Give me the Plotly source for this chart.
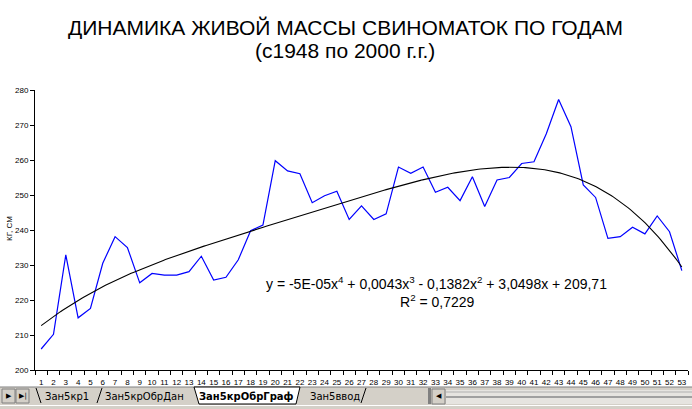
import numpy as np
import plotly.graph_objects as go

# ---------------- data ----------------
years_idx = list(range(1, 54))
mass = [206.0, 210.2, 232.9, 214.9, 217.6, 230.5, 238.1, 235.0, 224.9, 227.6,
        227.1, 227.1, 228.1, 232.5, 225.7, 226.5, 231.5, 239.8, 241.4, 259.8,
        256.9, 256.1, 247.8, 249.8, 251.1, 243.0, 246.9, 243.0, 244.6, 258.0,
        256.2, 258.0, 250.8, 252.2, 248.4, 255.2, 246.7, 254.3, 255.0, 259.0,
        259.5, 267.5, 277.3, 269.5, 252.9, 249.3, 237.6, 238.1, 240.8, 238.9,
        244.0, 239.5, 228.4]
y_ticks = [200, 210, 220, 230, 240, 250, 260, 270, 280]
title_line1 = "ДИНАМИКА ЖИВОЙ МАССЫ СВИНОМАТОК ПО ГОДАМ"
title_line2 = "(с1948 по 2000 г.г.)"
y_title = "КГ, СМ"
equation = "y = -5E-05x<sup>4</sup> + 0,0043x<sup>3</sup> - 0,1382x<sup>2</sup> + 3,0498x + 209,71"
r2_text = "R<sup>2</sup> = 0,7229"
sheet_tabs = ["Зан5кр1", "Зан5крОбрДан", "Зан5крОбрГраф", "Зан5ввод"]

# polynomial trendline (order 4) fitted to the data, as Excel does
coef = np.polyfit(years_idx, mass, 4)
xt = np.linspace(1, 53, 300)
yt = np.polyval(coef, xt)

W, H = 692, 409
def px(x):
    return x / W
def py(y):
    return 1 - y / H

FONT = "Liberation Sans, Arial, sans-serif"

fig = go.Figure()
fig.add_trace(go.Scatter(x=years_idx, y=mass, mode="lines",
                         line=dict(color="#0000ff", width=1.2), hoverinfo="skip"))
fig.add_trace(go.Scatter(x=xt, y=yt, mode="lines",
                         line=dict(color="#000000", width=1.1), hoverinfo="skip"))

fig.update_layout(
    width=W, height=H,
    margin=dict(l=0, r=0, t=0, b=0),
    paper_bgcolor="white", plot_bgcolor="white",
    showlegend=False,
    font=dict(family=FONT, color="black"),
    xaxis=dict(
        domain=[px(35), px(688)],
        range=[0.5, 53.5],
        tickmode="array", tickvals=years_idx, ticktext=[str(v) for v in years_idx],
        ticks="outside", ticklen=4, tickcolor="rgba(0,0,0,0)",
        tickfont=dict(size=8, family=FONT),
        showline=True, linecolor="black", linewidth=1,
        showgrid=False, zeroline=False, automargin=False,
        minor=dict(tickvals=[v + 0.5 for v in range(0, 54)], ticks="outside",
                   ticklen=4, tickcolor="black", tickwidth=1, showgrid=False),
    ),
    yaxis=dict(
        domain=[py(370), py(90)],
        range=[200, 280],
        tickmode="array", tickvals=y_ticks,
        ticks="outside", ticklen=4, tickcolor="black",
        tickfont=dict(size=8, family=FONT),
        showline=True, linecolor="black", linewidth=1,
        showgrid=False, zeroline=False, automargin=False,
    ),
)

def note(text, x, y, size, family=FONT, angle=0):
    return dict(text=text, x=px(x), y=py(y), xref="paper", yref="paper",
                xanchor="center", yanchor="middle", showarrow=False,
                textangle=angle, font=dict(size=size, family=family, color="black"))

ann = []
ann.append(note(title_line1, 345, 28, 21))
ann.append(note(title_line2, 345, 51, 21))
ann.append(note(y_title, 9, 229, 8, angle=-90))
ann.append(note(equation, 436, 283, 14))
ann.append(note(r2_text, 437, 301, 14))

shapes = []
# sheet tab bar (Excel window chrome)
shapes.append(dict(type="rect", xref="paper", yref="paper", x0=0, x1=1,
                   y0=py(409), y1=py(387), fillcolor="#d4d0c8", line=dict(width=0), layer="below"))
shapes.append(dict(type="line", xref="paper", yref="paper", x0=0, x1=1,
                   y0=py(387), y1=py(387), line=dict(color="#808080", width=1)))
# active tab (white)
shapes.append(dict(type="path", xref="paper", yref="paper",
                   path=f"M {px(194)},{py(387)} L {px(300)},{py(387)} L {px(296)},{py(404)} L {px(199)},{py(404)} Z",
                   fillcolor="white", line=dict(color="black", width=1)))
# tab separators
for (xa, xb) in [(36, 41), (102, 97), (366, 361)]:
    shapes.append(dict(type="line", xref="paper", yref="paper",
                       x0=px(xa), x1=px(xb), y0=py(388), y1=py(403),
                       line=dict(color="black", width=1)))
# buttons
for bx in [2, 16]:
    shapes.append(dict(type="rect", xref="paper", yref="paper", x0=px(bx), x1=px(bx + 13),
                       y0=py(403), y1=py(389), fillcolor="#d4d0c8",
                       line=dict(color="#808080", width=1)))
# splitter and scroll button
shapes.append(dict(type="rect", xref="paper", yref="paper", x0=px(428), x1=px(431),
                   y0=py(404), y1=py(388), fillcolor="#808080", line=dict(width=0)))
shapes.append(dict(type="rect", xref="paper", yref="paper", x0=px(432), x1=px(445),
                   y0=py(404), y1=py(389), fillcolor="#d4d0c8", line=dict(color="#808080", width=1)))
# scrollbar track
shapes.append(dict(type="rect", xref="paper", yref="paper", x0=px(446), x1=1,
                   y0=py(404), y1=py(390), fillcolor="#e6e4e0", line=dict(width=0)))
shapes.append(dict(type="line", xref="paper", yref="paper", x0=px(446), x1=1,
                   y0=py(392), y1=py(392), line=dict(color="#b0b0b0", width=1)))
shapes.append(dict(type="line", xref="paper", yref="paper", x0=px(446), x1=1,
                   y0=py(397), y1=py(397), line=dict(color="#a0a0a0", width=2)))
shapes.append(dict(type="line", xref="paper", yref="paper", x0=0, x1=1,
                   y0=py(405.5), y1=py(405.5), line=dict(color="#ffffff", width=1)))

ann.append(note("▶", 8.5, 396, 7, family="DejaVu Sans"))
ann.append(note("▶|", 22.5, 396, 7, family="DejaVu Sans"))
ann.append(note("◀", 438.5, 396, 7, family="DejaVu Sans"))
tab_x = [67, 144, 246, 335]
for name, cx in zip(sheet_tabs, tab_x):
    txt = f"<b>{name}</b>" if name == "Зан5крОбрГраф" else name
    ann.append(note(txt, cx, 396, 10, family="DejaVu Sans"))

fig.update_layout(annotations=ann, shapes=shapes)
fig.write_html("out.html", config={"displayModeBar": False},
               post_script="document.body.style.margin='0';")
